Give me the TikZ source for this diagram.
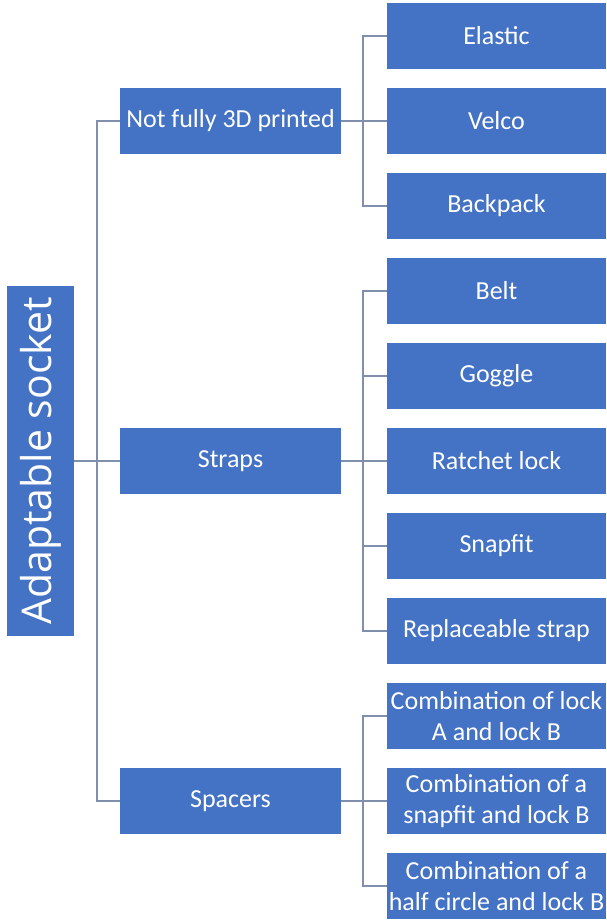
\documentclass[tikz,border=0pt]{standalone}
\usepackage{fontspec}
\setmainfont{Carlito}
\newfontfamily\rootfont{Open Sans}
\usetikzlibrary{positioning}
\definecolor{boxblue}{RGB}{68,114,196}
\definecolor{linkgray}{RGB}{128,144,172}
\tikzstyle{box} = [rectangle,fill=boxblue,text=white,inner sep=0pt,outer sep=0pt,align=center,
  minimum height=66pt,font=\fontsize{26}{31}\selectfont]
\tikzstyle{group} = [box,minimum width=221pt]
\tikzstyle{leaf} = [box,minimum width=219pt]
\tikzstyle{link} = [draw=linkgray,line width=1.5pt]

\begin{document}
\begin{tikzpicture}[node distance=19pt]
    \useasboundingbox (0,0) rectangle (606pt,-920pt);

    % first level
    \node[group] (nf)  at (230.5pt,-121pt)  {Not fully 3D printed};
    \node[group] (straps) [below=274pt of nf]     {Straps};
    \node[group] (spacers) [below=274pt of straps] {Spacers};
    \node[box,minimum width=67pt,minimum height=350pt,font=\rootfont\fontsize{41}{48}\selectfont]
        (root) [left=46pt of straps] {\rotatebox{90}{Adaptable socket}};

    % second level
    \node[leaf] (velco)    [right=46pt of nf]  {Velco};
    \node[leaf] (elastic)  [above=of velco]    {Elastic};
    \node[leaf] (backpack) [below=of velco]    {Backpack};
    \node[leaf] (belt)     [below=of backpack] {Belt};
    \node[leaf] (goggle)   [below=of belt]     {Goggle};
    \node[leaf] (ratchet)  [below=of goggle]   {Ratchet lock};
    \node[leaf] (snapfit)  [below=of ratchet]  {Snapfit};
    \node[leaf] (replace)  [below=of snapfit]  {Replaceable strap};
    \node[leaf] (combA)    [below=of replace]  {Combination of lock\\A and lock B};
    \node[leaf] (combB)    [below=of combA]    {Combination of a\\snapfit and lock B};
    \node[leaf] (combC)    [below=of combB]    {Combination of a\\half circle and lock B};

    % connectors
    \draw[link] (root.east) -- (straps.west);
    \draw[link] (nf.west) -- ++(-23pt,0) |- (spacers.west);

    \draw[link] (nf.east) -- (velco.west);
    \draw[link] (elastic.west) -- ++(-24pt,0) |- (backpack.west);

    \draw[link] (straps.east) -- (ratchet.west);
    \draw[link] (belt.west) -- ++(-24pt,0) |- (replace.west);
    \draw[link] (goggle.west) -- ++(-24pt,0);
    \draw[link] (snapfit.west) -- ++(-24pt,0);

    \draw[link] (spacers.east) -- (combB.west);
    \draw[link] (combA.west) -- ++(-24pt,0) |- (combC.west);
\end{tikzpicture}
\end{document}
